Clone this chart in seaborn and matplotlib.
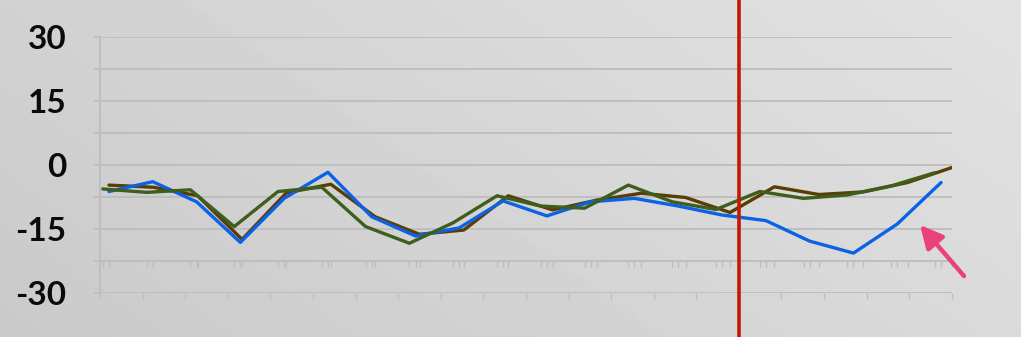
import numpy as np
import pandas as pd
import matplotlib
matplotlib.use("Agg")
import matplotlib.pyplot as plt
import seaborn as sns

# ---- data ----
idx = list(range(20))
blue_vals = [-6.2, -3.9, -8.6, -18.1, -7.8, -1.7, -12.1, -16.6, -14.7, -8.4,
             -11.9, -8.6, -7.8, -9.6, -11.7, -13.0, -17.8, -20.6, -13.8, -4.1]
green_vals = [-5.6, -6.4, -5.8, -14.4, -6.2, -5.2, -14.4, -18.3, -13.5, -7.2,
              -9.6, -10.1, -4.7, -8.6, -10.4, -6.2, -7.8, -7.0, -4.9, -1.8]
brown_vals = [-4.7, -5.2, -7.2, -17.4, -6.5, -4.5, -12.1, -16.2, -15.2, -7.2,
              -10.5, -8.2, -6.6, -7.6, -11.1, -5.1, -6.9, -6.3, -4.1, -0.6]
# x positions of each series (slightly shifted sampling dates)
blue_x = [i for i in idx]
green_x = [i - 0.14 for i in idx]
brown_x = [i * 1.013 for i in idx]
y_ticks = [30, 15, 0, -15, -30]
y_minor = [22.5, 7.5, -7.5, -22.5]
marker_x = 14.38

BLUE = "#0b62e6"
GREEN = "#3e5e1c"
BROWN = "#5b3c02"
RED = "#c21a00"
PINK = "#e8417c"
GRID = "#bdbdbd"

sns.set_theme(style="white")
plt.rcParams["font.family"] = ["Lato", "DejaVu Sans"]

fig = plt.figure(figsize=(10.21, 3.37), dpi=100)

# gradient background
bg = fig.add_axes([0, 0, 1, 1], zorder=-10)
gx = np.linspace(0, 1, 300)
gy = np.linspace(0, 1, 100)
GX, GY = np.meshgrid(gx, gy)
grad = 0.79 + 0.095 * (0.75 * GX + 0.35 * GY) / 1.1
bg.imshow(grad, cmap="gray", vmin=0, vmax=1, origin="lower", aspect="auto",
          extent=[0, 1, 0, 1])
bg.set_axis_off()

ax = fig.add_axes([100 / 1021, 43.7 / 337, 852 / 1021, 256.6 / 337])
ax.set_facecolor("none")

df_b = pd.DataFrame({"x": brown_x, "y": brown_vals})
df_bl = pd.DataFrame({"x": blue_x, "y": blue_vals})
df_g = pd.DataFrame({"x": green_x, "y": green_vals})
sns.lineplot(data=df_b, x="x", y="y", ax=ax, color=BROWN, lw=2.4, sort=False, zorder=3)
sns.lineplot(data=df_bl, x="x", y="y", ax=ax, color=BLUE, lw=2.4, sort=False, zorder=4)
sns.lineplot(data=df_g, x="x", y="y", ax=ax, color=GREEN, lw=2.4, sort=False, zorder=5)

ax.set_xlim(-0.205, 19.25)
ax.set_ylim(-30, 30)
ax.set_xlabel("")
ax.set_ylabel("")

ax.set_yticks(y_ticks)
ax.set_yticks(y_minor, minor=True)
ax.set_yticklabels([str(v) for v in y_ticks], fontsize=24, color="#0a0a0a",
                   fontweight="bold")
ax.grid(True, axis="y", which="both", color=GRID, lw=1.3, zorder=1)
ax.grid(False, axis="x")
ax.tick_params(axis="y", which="both", length=4, width=1.2, color=GRID,
               direction="out", pad=20, left=True)
ax.tick_params(axis="y", which="minor", length=4)

# bottom ticks along the -30 line
bt = [-0.205 + k * 0.9726 for k in range(21)]
ax.set_xticks(bt)
ax.set_xticklabels([])
ax.tick_params(axis="x", which="both", length=4, width=1.0, color=GRID,
               direction="out", bottom=True)

for s in ["top", "right", "bottom"]:
    ax.spines[s].set_visible(False)
ax.spines["left"].set_color(GRID)
ax.spines["left"].set_linewidth(1.3)

# series ticks along -22.5 line
sec = ax.secondary_xaxis(0.125)
sec.set_xticks(sorted(blue_x + green_x + brown_x))
sec.set_xticklabels([])
sec.tick_params(axis="x", length=4, width=1.0, color=GRID, direction="out")
sec.spines["bottom"].set_visible(False)

# red vertical marker spanning the whole height
ax.axvline(marker_x, ymin=-0.18, ymax=1.16, color=RED, lw=2.6, clip_on=False, zorder=6)

# pink arrow
fig.add_artist(matplotlib.patches.FancyArrowPatch(
    (964 / 1021, 1 - 276 / 337), (920 / 1021, 1 - 225 / 337),
    transform=fig.transFigure, arrowstyle="-|>", mutation_scale=34,
    color=PINK, lw=3.2, shrinkA=0, shrinkB=0))

fig.savefig("out.png", dpi=100)
